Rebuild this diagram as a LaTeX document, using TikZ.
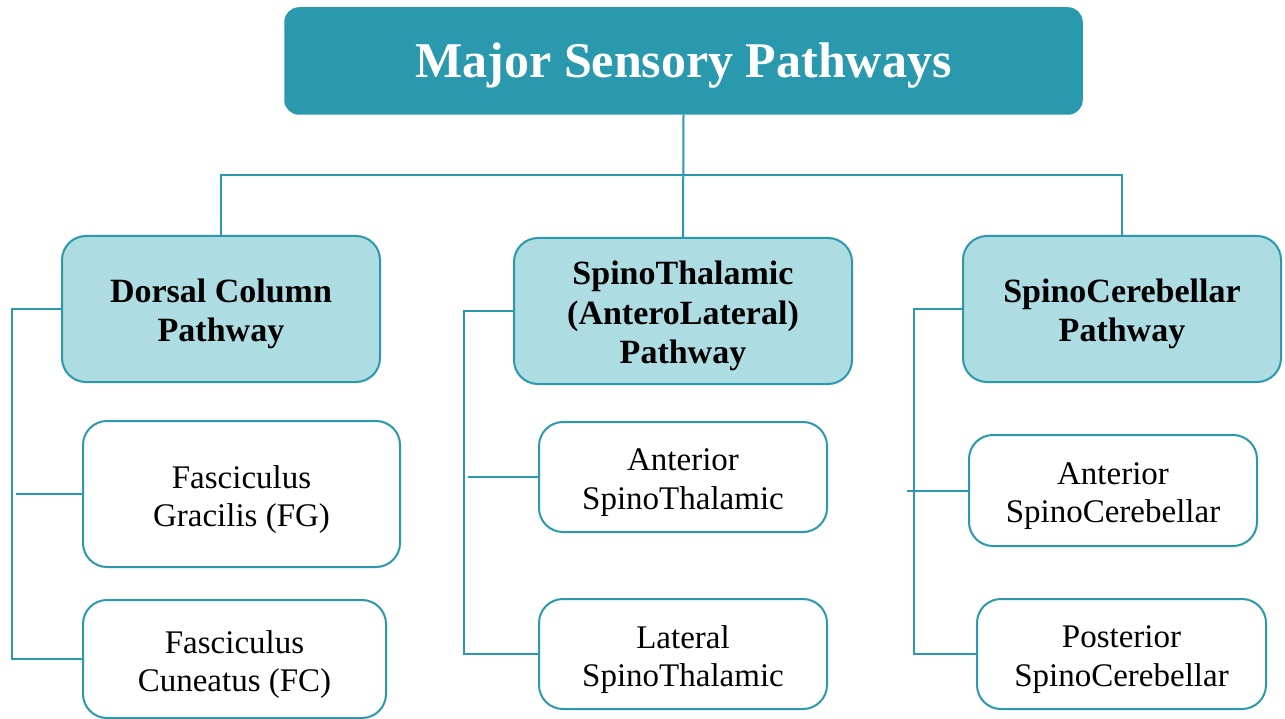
\documentclass[tikz,border=0pt]{standalone}
\usepackage{fontspec}
\setmainfont{Liberation Serif}
\definecolor{teal1}{HTML}{2A99AD}
\definecolor{lightteal}{HTML}{ADDCE3}
\begin{document}
\begin{tikzpicture}[x=1pt,y=-1pt,
  titlebox/.style={draw=teal1,fill=teal1,rounded corners=14pt,line width=1.5pt,
    minimum width=797pt,minimum height=106pt,inner sep=0pt},
  titletext/.style={inner sep=0pt,text=white,yshift=-5pt,
    font=\fontsize{50}{56}\selectfont\bfseries},
  headbox/.style={draw=teal1,fill=lightteal,rounded corners=24pt,line width=2pt,inner sep=0pt},
  headtext/.style={inner sep=0pt,align=center,yshift=-5pt,font=\fontsize{34}{39.5}\selectfont\bfseries},
  leafbox/.style={draw=teal1,fill=white,rounded corners=24pt,line width=2pt,inner sep=0pt},
  leaftext/.style={inner sep=0pt,align=center,yshift=-5.5pt,font=\fontsize{33}{38.5}\selectfont},
  conn/.style={draw=teal1,line width=2pt}]
\useasboundingbox (0,0) rectangle (1285,719);
\fill[white] (0,0) rectangle (1285,719);

\node[titlebox] (title) at (683.5,61) {};
\node[titletext] (titlet) at (title.center) {Major Sensory Pathways};

\node[headbox,minimum width=318pt,minimum height=146pt] (dorsal) at (221,309) {};
\node[headtext] (dorsalt) at (dorsal.center) {Dorsal Column\\Pathway};
\node[headbox,minimum width=338pt,minimum height=146pt] (st) at (683,311) {};
\node[headtext] (stt) at (st.center) {SpinoThalamic\\(AnteroLateral)\\Pathway};
\node[headbox,minimum width=318pt,minimum height=146pt] (sc) at (1122,309) {};
\node[headtext] (sct) at (sc.center) {SpinoCerebellar\\Pathway};

\node[leafbox,minimum width=317pt,minimum height=146pt] (fg) at (241.5,494) {};
\node[leaftext] (fgt) at (fg.center) {Fasciculus\\Gracilis (FG)};
\node[leafbox,minimum width=303pt,minimum height=118pt] (fc) at (234.5,659) {};
\node[leaftext] (fct) at (fc.center) {Fasciculus\\Cuneatus (FC)};

\node[leafbox,minimum width=288pt,minimum height=110pt] (ast) at (683,477) {};
\node[leaftext] (astt) at (ast.center) {Anterior\\SpinoThalamic};
\node[leafbox,minimum width=288pt,minimum height=110pt] (lst) at (683,654) {};
\node[leaftext] (lstt) at (lst.center) {Lateral\\SpinoThalamic};

\node[leafbox,minimum width=288pt,minimum height=111pt] (asc) at (1113,490.5) {};
\node[leaftext] (asct) at (asc.center) {Anterior\\SpinoCerebellar};
\node[leafbox,minimum width=289pt,minimum height=110pt] (psc) at (1121.5,654) {};
\node[leaftext] (psct) at (psc.center) {Posterior\\SpinoCerebellar};

% top tree
\coordinate (hub) at (683,175);
\draw[conn] (title.south) -- (st.north);
\draw[conn] (dorsal.north) |- (hub) -| (sc.north);

% left branch
\coordinate (lx) at (12,309);
\coordinate (lfg) at (16,494);
\draw[conn] (dorsal.west) -- (lx) |- (fc.west);
\draw[conn] (fg.west) -- (lfg);

% middle branch
\coordinate (mx) at (464,311);
\coordinate (mast) at (468,477);
\draw[conn] (st.west) -- (mx) |- (lst.west);
\draw[conn] (ast.west) -- (mast);

% right branch
\coordinate (rx) at (914,309);
\coordinate (rasc) at (907,490.5);
\draw[conn] (sc.west) -- (rx) |- (psc.west);
\draw[conn] (asc.west) -- (rasc);
\end{tikzpicture}
\end{document}
